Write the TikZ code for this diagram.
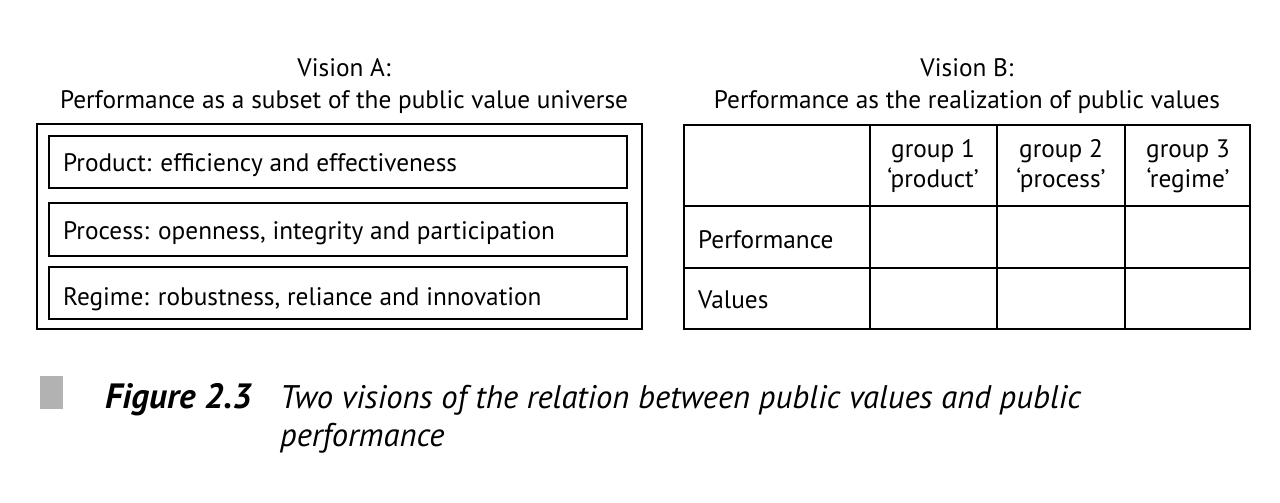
\documentclass[tikz,border=0pt]{standalone}
\usepackage{fontspec}
\setmainfont{PT Sans}
\begin{document}
\begin{tikzpicture}[x=0.02cm, y=-0.02cm, every node/.append style={font=\fontsize{14.4}{18}\selectfont},
  frame/.style={line width=1.1pt}]
  \useasboundingbox (0,0) rectangle (1280,503);
  % Vision A
  \node[align=center] (titleA) at (344,86) {Vision A:\\Performance as a subset of the public value universe};
  \draw[frame] (37,124) rectangle (642,329);
  \draw[frame] (49,136) rectangle (627,188);
  \draw[frame] (49,203) rectangle (627,256);
  \draw[frame] (49,267) rectangle (627,319);
  \node[anchor=west] (product) at (57,165) {Product: efficiency and effectiveness};
  \node[anchor=west] (process) at (57,233) {Process: openness, integrity and participation};
  \node[anchor=west] (regime) at (57,299) {Regime: robustness, reliance and innovation};
  % Vision B
  \node[align=center] (titleB) at (967,86) {Vision B:\\Performance as the realization of public values};
  \draw[frame] (684,125) rectangle (1250,329);
  \draw[frame] (684,206) -- (1250,206) (684,268) -- (1250,268);
  \draw[frame] (870,125) -- (870,329) (997,125) -- (997,329) (1125,125) -- (1125,329);
  \node[align=center, font=\fontsize{14.4}{17}\selectfont] (group1) at (933,166) {group 1\\‘product’};
  \node[align=center, font=\fontsize{14.4}{17}\selectfont] (group2) at (1061,166) {group 2\\‘process’};
  \node[align=center, font=\fontsize{14.4}{17}\selectfont] (group3) at (1188,166) {group 3\\‘regime’};
  \node[anchor=west] (perf) at (692,240) {Performance};
  \node[anchor=west] (values) at (692,300) {Values};
  % caption
  \fill[gray!60] (40,376) rectangle (63,409);
  \node[anchor=base west, font=\fontsize{20}{22}\bfseries\itshape\selectfont] (figlabel) at (99,408) {Figure 2.3};
  \node[anchor=base west, font=\fontsize{18.6}{22}\itshape\selectfont] (caption) at (274,408) {Two visions of the relation between public values and public};
  \node[anchor=base west, font=\fontsize{18.6}{22}\itshape\selectfont] (captionb) at (274,446) {performance};
\end{tikzpicture}
\end{document}
